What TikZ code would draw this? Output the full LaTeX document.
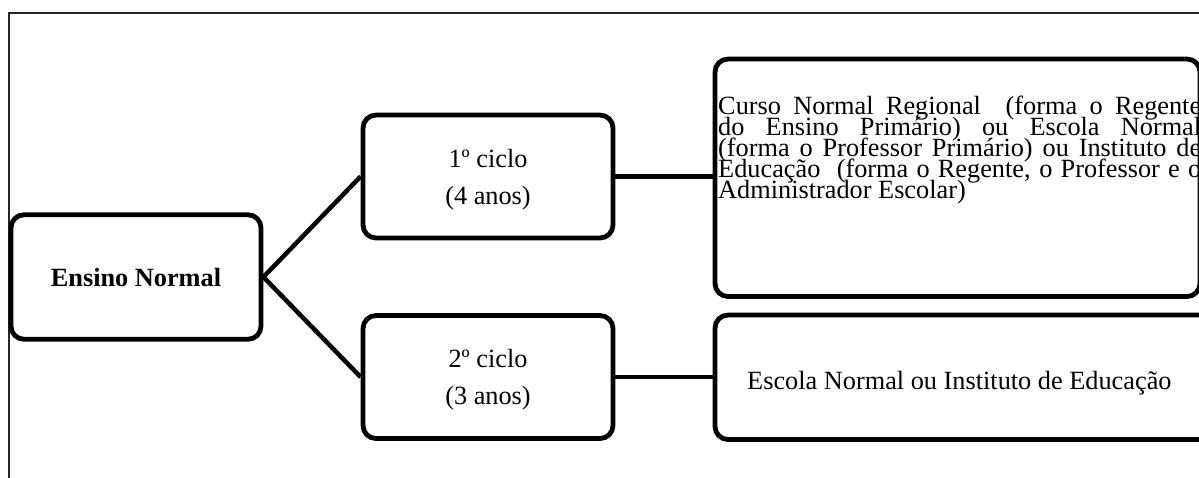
\documentclass[tikz,border=0pt]{standalone}
\usepackage{fontspec}
\setmainfont{Liberation Serif}
\begin{document}
\begin{tikzpicture}[x=1pt,y=-1pt,
  box/.style={draw, line width=4.8pt, rounded corners=13pt, inner sep=0pt},
  conn/.style={line width=4.5pt},
  txt/.style={font=\fontsize{26.3}{37}\selectfont, align=center, inner sep=0pt}]
\useasboundingbox (0,0) rectangle (1199,477);
\clip (0,0) rectangle (1199,477);
\draw[line width=1.5pt, black!85] (9,520) -- (9,13) -- (1250,13);
\node[box, minimum width=250pt, minimum height=124.5pt, font=\fontsize{26.3}{30}\selectfont\bfseries] (en) at (136,277) {Ensino Normal};
\node[box, minimum width=250pt, minimum height=123pt] (c1) at (488,176.5) {};
\node[box, minimum width=250pt, minimum height=123pt] (c2) at (488,377) {};
\node[txt, yshift=-2.8pt] (c1t) at (c1.center) {1º ciclo\\(4 anos)};
\node[txt, yshift=-2.6pt] (c2t) at (c2.center) {2º ciclo\\(3 anos)};
\node[box, minimum width=485pt, minimum height=237.5pt] (d1) at (957.5,177.75) {};
\node[box, minimum width=515pt, minimum height=124.5pt] (d2) at (972.5,377.25) {};
\node[anchor=base west, inner sep=0pt] (t1) at (718,114) {\parbox[t]{483pt}{\fontsize{26.3}{21}\selectfont\lineskiplimit=-100pt\lineskip=0pt
\makebox[483pt][s]{Curso Normal Regional\ \ (forma o Regente}\\
\makebox[483pt][s]{do Ensino Primário) ou Escola Normal}\\
\makebox[483pt][s]{(forma o Professor Primário) ou Instituto de}\\
\makebox[483pt][s]{Educação\ \ (forma o Regente, o Professor e o}\\
Administrador Escolar)}};
\node[anchor=base west, inner sep=0pt, font=\fontsize{26.3}{30}\selectfont] (t2) at (747,389) {Escola Normal ou Instituto de Educação};
\draw[conn] (en.east) -- (c1.west);
\draw[conn] (en.east) -- (c2.west);
\draw[conn] (c1.east) -- (d1.west |- c1.east);
\draw[conn] (c2.east) -- (d2.west |- c2.east);
\end{tikzpicture}
\end{document}
